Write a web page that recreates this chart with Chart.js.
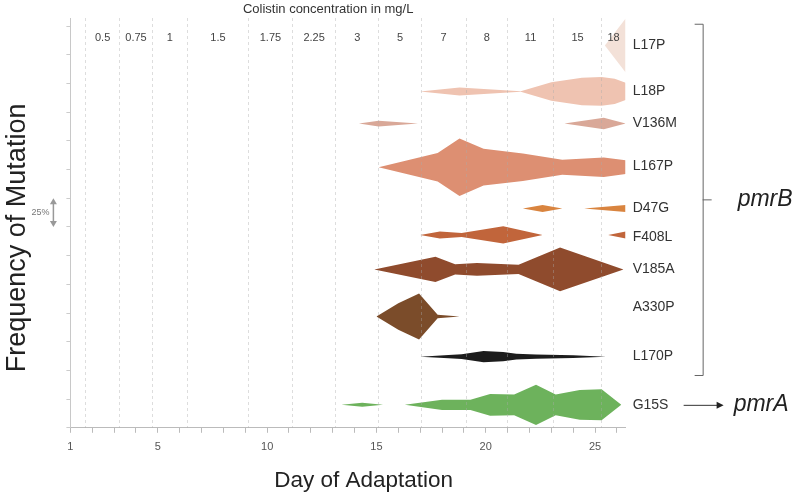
<!DOCTYPE html>
<html>
<head>
<meta charset="utf-8">
<title>Frequency of Mutation</title>
<script src="https://cdn.jsdelivr.net/npm/chart.js@4.4.0/dist/chart.umd.min.js"></script>
<style>
  html, body { margin: 0; padding: 0; background: #fff; }
  #wrap { width: 800px; height: 504px; }
</style>
</head>
<body>
<div id="wrap"><canvas id="freqChart" width="800" height="504"></canvas></div>
<script>
/* ------------------------------------------------------------
   DATA
------------------------------------------------------------ */
const mutations = ["L17P", "L18P", "V136M", "L167P", "D47G", "F408L", "V185A", "A330P", "L170P", "G15S"];
const rowCenters = [333, 293, 265, 227, 191, 168, 138, 97, 62, 20];   // band baselines (y units, 25 = 25%)
const rowLabelPos = [333, 293, 265, 228, 191, 166, 138, 105, 62, 20];
const rowColors = ["#f3e1d8", "#efc3b1", "#d9a898", "#dd8f72", "#d9843f",
                   "#c1653b", "#8f4b2d", "#7b4c2a", "#1c1c1c", "#6db25c"];

// day of adaptation / mutation frequency in % (null = not detected)
const l17pDays = [25.45, 26.4];
const l17pFreq = [0, 47];
const l18pDays = [17.0, 18.8, 21.6, 23.0, 24.4, 25.3, 25.9, 26.4];
const l18pFreq = [0, 7, 0.5, 16, 24, 25, 22, 15];
const v136mDays = [14.2, 15.1, 16.9, 20, 23.6, 25.4, 26.4];
const v136mFreq = [0, 5, 0, null, 0, 10, 0];
const l167pDays = [15.1, 17.8, 18.8, 19.9, 21.7, 23.5, 25.4, 26.4];
const l167pFreq = [0, 25, 50, 32, 24, 13, 17, 12];
const d47gDays = [21.7, 22.6, 23.5, 24, 24.5, 26.4];
const d47gFreq = [0, 6, 0, null, 0, 6];
const f408lDays = [17.0, 17.9, 18.9, 20.8, 22.6, 24, 25.6, 26.4];
const f408lFreq = [0, 6, 3.5, 15, 0, null, 0, 6];
const v185aDays = [14.9, 17.7, 18.6, 19.6, 21.5, 23.4, 26.3];
const v185aFreq = [0, 22, 9, 11, 8, 38, 0];
const a330pDays = [15.0, 16.0, 16.95, 17.8, 18.8];
const a330pFreq = [0, 23, 40, 3, 0];
const l170pDays = [17.0, 18.3, 18.9, 19.9, 20.8, 21.4, 22.3, 24.0, 25.5];
const l170pFreq = [0, 3, 4, 10, 8, 5, 3.5, 2.5, 0];
const g15sDays = [13.4, 14.35, 15.3, 15.8, 16.3, 18.0, 19.3, 20.2, 21.3, 22.3, 23.2, 24.3, 25.3, 26.2];
const g15sFreq = [0, 3.5, 0, null, 0, 9, 9, 19, 18, 35, 18, 26, 27, 0];

const bandDays = [l17pDays, l18pDays, v136mDays, l167pDays, d47gDays, f408lDays, v185aDays, a330pDays, l170pDays, g15sDays];
const bandFreq = [l17pFreq, l18pFreq, v136mFreq, l167pFreq, d47gFreq, f408lFreq, v185aFreq, a330pFreq, l170pFreq, g15sFreq];

// x axis
const dayLabelsShown = [1, 5, 10, 15, 20, 25];
// days where the colistin concentration was raised, and the concentration in each period
const concBounds = [1.7, 3.25, 4.75, 6.35, 9.15, 11.15, 13.15, 15.1, 17.05, 19.1, 21.0, 23.1, 25.3, 26.4];
const concLabels = ["0.5", "0.75", "1", "1.5", "1.75", "2.25", "3", "5", "7", "8", "11", "15", "18"];

/* ------------------------------------------------------------
   BUILD DATASETS (upper edge + lower edge filled between)
------------------------------------------------------------ */
const datasets = [];
mutations.forEach((name, i) => {
  const edge = sign => bandDays[i].map((d, k) => ({
    x: d,
    y: bandFreq[i][k] === null ? null : rowCenters[i] + sign * bandFreq[i][k] / 2
  }));
  const common = { borderWidth: 0, borderColor: "transparent", pointRadius: 0, tension: 0 };
  datasets.push({ ...common, label: name + " top", data: edge(1), fill: false });
  datasets.push({ ...common, label: name, data: edge(-1), fill: "-1", backgroundColor: rowColors[i] });
});

// top axis: boundary ticks (dashed lines) interleaved with period mid ticks (labels)
const topTicks = [];
for (let i = 0; i < concLabels.length; i++) {
  topTicks.push({ value: concBounds[i] });
  topTicks.push({ value: (concBounds[i] + concBounds[i + 1]) / 2 });
}

/* ------------------------------------------------------------
   ANNOTATIONS (bracket, gene names, 25% scale arrow)
------------------------------------------------------------ */
const annotations = {
  id: "annotations",
  afterDraw(chart) {
    const { ctx, chartArea: a, scales: { y } } = chart;
    ctx.save();

    // pmrB bracket
    const bx = a.right + 77;
    const bTop = y.getPixelForValue(352);
    const bBot = y.getPixelForValue(46);
    const bMid = y.getPixelForValue(199);
    ctx.strokeStyle = "#666";
    ctx.lineWidth = 1;
    ctx.beginPath();
    ctx.moveTo(bx - 8, bTop + 0.5); ctx.lineTo(bx + 0.5, bTop + 0.5);
    ctx.lineTo(bx + 0.5, bBot + 0.5); ctx.lineTo(bx - 8, bBot + 0.5);
    ctx.moveTo(bx, bMid + 0.5); ctx.lineTo(bx + 9, bMid + 0.5);
    ctx.stroke();

    ctx.fillStyle = "#222";
    ctx.font = 'italic 23px "Liberation Sans", Arial, sans-serif';
    ctx.textBaseline = "middle";
    ctx.textAlign = "left";
    ctx.fillText("pmrB", a.right + 112, bMid);

    // pmrA arrow
    const ay = y.getPixelForValue(rowLabelPos[9]);
    ctx.strokeStyle = "#333";
    ctx.beginPath();
    ctx.moveTo(a.right + 58, ay + 0.5); ctx.lineTo(a.right + 92, ay + 0.5);
    ctx.stroke();
    ctx.fillStyle = "#222";
    ctx.beginPath();
    ctx.moveTo(a.right + 98, ay + 0.5);
    ctx.lineTo(a.right + 91, ay - 3);
    ctx.lineTo(a.right + 91, ay + 4);
    ctx.closePath();
    ctx.fill();
    ctx.fillText("pmrA", a.right + 108, ay);

    // 25% scale arrow
    const sx = a.left - 17;
    const s1 = y.getPixelForValue(200);
    const s2 = y.getPixelForValue(175);
    ctx.strokeStyle = "#999";
    ctx.fillStyle = "#999";
    ctx.lineWidth = 1.5;
    ctx.beginPath();
    ctx.moveTo(sx, s1 + 4); ctx.lineTo(sx, s2 - 4);
    ctx.stroke();
    ctx.beginPath();
    ctx.moveTo(sx, s1); ctx.lineTo(sx - 3.5, s1 + 6); ctx.lineTo(sx + 3.5, s1 + 6); ctx.closePath();
    ctx.moveTo(sx, s2); ctx.lineTo(sx - 3.5, s2 - 6); ctx.lineTo(sx + 3.5, s2 - 6); ctx.closePath();
    ctx.fill();
    ctx.fillStyle = "#777";
    ctx.font = '9px "Liberation Sans", Arial, sans-serif';
    ctx.textAlign = "right";
    ctx.fillText("25%", sx - 4, (s1 + s2) / 2);

    ctx.restore();
  }
};

/* ------------------------------------------------------------
   CHART
------------------------------------------------------------ */
Chart.defaults.font.family = '"Liberation Sans", Arial, sans-serif';

new Chart(document.getElementById("freqChart"), {
  type: "line",
  data: { datasets },
  plugins: [annotations],
  options: {
    responsive: false,
    animation: false,
    events: [],
    layout: { padding: { left: 0, right: 116, top: 0, bottom: 6 } },
    plugins: { legend: { display: false }, tooltip: { enabled: false } },
    scales: {
      x: {
        type: "linear",
        position: "bottom",
        min: 1,
        max: 26.4,
        grid: { drawOnChartArea: false, tickLength: 5, tickColor: "#bbb" },
        border: { color: "#bbb" },
        ticks: {
          stepSize: 1,
          includeBounds: false,
          autoSkip: false,
          maxRotation: 0,
          padding: 8,
          color: "#555",
          font: { size: 11 },
          callback: v => (dayLabelsShown.includes(v) ? String(v) : "")
        },
        title: {
          display: true,
          text: "     Day of Adaptation",
          color: "#222",
          font: { size: 22.5 },
          padding: { top: 5, bottom: 4 }
        }
      },
      xTop: {
        type: "linear",
        position: "top",
        min: 1,
        max: 26.4,
        afterBuildTicks: axis => { axis.ticks = topTicks.map(t => ({ value: t.value })); },
        grid: {
          z: 1,
          drawTicks: false,
          color: ctx => (ctx.index % 2 === 0 ? "rgba(170,170,170,0.4)" : "transparent")
        },
        border: { display: false, dash: [3, 3] },
        ticks: {
          z: 1,
          autoSkip: false,
          maxRotation: 0,
          mirror: true,
          padding: 13,
          color: "#444",
          font: { size: 11 },
          callback: (v, i) => (i % 2 === 1 ? concLabels[(i - 1) / 2] : "")
        },
        title: {
          display: true,
          text: "Colistin concentration in mg/L           ",
          color: "#333",
          font: { size: 13 },
          padding: { top: 2, bottom: -25.6 }
        }
      },
      y: {
        type: "linear",
        position: "left",
        min: 0,
        max: 357,
        grid: { drawOnChartArea: false, tickLength: 4, tickColor: "#ccc" },
        border: { color: "#c8c8c8" },
        ticks: { display: false, stepSize: 25, includeBounds: false },
        title: {
          display: true,
          text: "Frequency of Mutation    ",
          color: "#222",
          font: { size: 27 },
          padding: { top: 1, bottom: 33 }
        }
      },
      yNames: {
        type: "linear",
        position: "right",
        min: 0,
        max: 357,
        afterBuildTicks: axis => { axis.ticks = rowLabelPos.map(v => ({ value: v })); },
        grid: { display: false, drawTicks: false },
        border: { display: false },
        ticks: {
          autoSkip: false,
          padding: 7,
          color: "#333",
          font: { size: 14 },
          callback: (v, i) => mutations[i]
        }
      }
    }
  }
});
</script>
</body>
</html>
